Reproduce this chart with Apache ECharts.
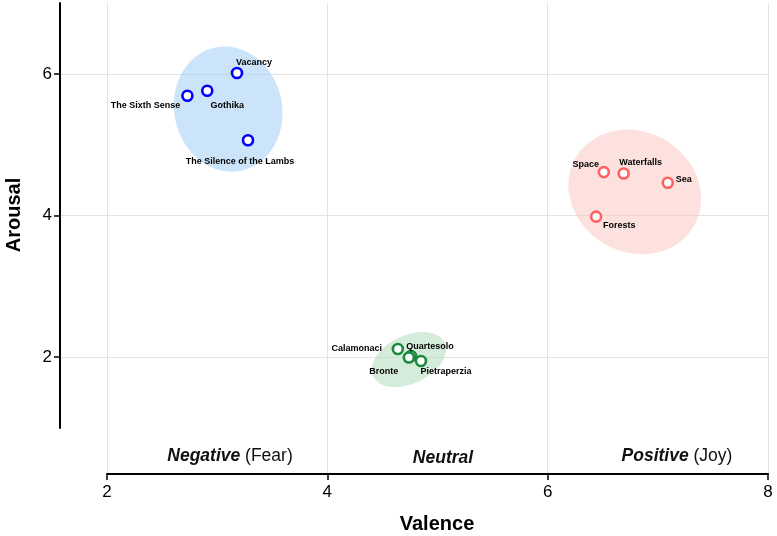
<!DOCTYPE html>
<html>
<head>
<meta charset="utf-8">
<script src="https://cdn.jsdelivr.net/npm/echarts@6/dist/echarts.min.js"></script>
<style>
  html, body { margin: 0; padding: 0; background: #fff; }
  #chart { width: 777px; height: 536px; }
</style>
</head>
<body>
<div id="chart"></div>
<script>
// Fear (films)
var fearNames = ["Vacancy", "Gothika", "The Sixth Sense", "The Silence of the Lambs"];
var fearValence = [3.18, 2.91, 2.73, 3.28];
var fearArousal = [6.01, 5.76, 5.69, 5.06];

// Joy (nature)
var joyNames = ["Space", "Waterfalls", "Sea", "Forests"];
var joyValence = [6.51, 6.69, 7.09, 6.44];
var joyArousal = [4.61, 4.59, 4.46, 3.98];

// Neutral (towns)
var neutralNames = ["Calamonaci", "Quartesolo", "Bronte", "Pietraperzia"];
var neutralValence = [4.64, 4.76, 4.74, 4.85];
var neutralArousal = [2.11, 2.01, 1.99, 1.94];

// cluster ellipses: centre, half-width (valence), half-height (arousal), tilt in degrees
var ellipseValence = [3.10, 6.79, 4.74];
var ellipseArousal = [5.50, 4.33, 1.96];
var ellipseHalfV = [0.49, 0.62, 0.36];
var ellipseHalfA = [0.89, 0.85, 0.34];
var ellipseTilt = [12, -30, 25];

var xTicks = [2, 4, 6, 8];
var yTicks = [2, 4, 6];

// label offsets from marker centre (px)
var fearOffsets = [[17, -11], [20, 15], [-42, 10], [-8, 21]];
var joyOffsets = [[-18, -8], [17, -11], [16, -3], [23, 9]];
var neutralOffsets = [[-41, 0], [19, -10], [-25, 14], [25, 11]];

var ellipseFill = ["rgba(153,201,245,0.5)", "rgba(251,195,189,0.5)", "rgba(173,217,181,0.5)"];
var FONT = "'Liberation Sans', Arial, Helvetica, sans-serif";

function points(names, xs, ys, offsets) {
  return names.map(function (n, i) {
    return { value: [xs[i], ys[i]], name: n, label: { offset: offsets[i] } };
  });
}

function scatter(name, color, data) {
  return {
    name: name,
    type: "scatter",
    xAxisIndex: 1,
    yAxisIndex: 1,
    symbol: "circle",
    symbolSize: 10,
    z: 5,
    itemStyle: { color: "#fff", borderColor: color, borderWidth: 2.6, opacity: 1 },
    label: {
      show: true,
      position: "inside",
      formatter: "{b}",
      color: "#000",
      fontSize: 9,
      fontWeight: "bold",
      fontFamily: FONT
    },
    data: data
  };
}

var chart = echarts.init(document.getElementById("chart"));

chart.setOption({
  animation: false,
  backgroundColor: "#fff",
  grid: [
    { left: 60, right: 9, top: 3, bottom: 108 },
    { left: 107, right: 9, top: 3, bottom: 62 }
  ],
  xAxis: [
    { gridIndex: 0, type: "value", show: false, min: 0, max: 1 },
    {
      gridIndex: 1,
      type: "value",
      min: 2,
      max: 8,
      interval: 2,
      axisLine: { lineStyle: { color: "#000", width: 2 } },
      axisTick: { show: true, length: 6, lineStyle: { color: "#000", width: 1.5 } },
      axisLabel: { color: "#000", fontSize: 17, margin: 10, fontFamily: FONT,
        customValues: xTicks },
      splitLine: { show: true, lineStyle: { color: "#e3e3e3", width: 1 } }
    }
  ],
  yAxis: [
    {
      gridIndex: 0,
      type: "value",
      min: 1,
      max: 7,
      interval: 1,
      axisLine: { show: true, lineStyle: { color: "#000", width: 2 } },
      axisTick: { show: true, length: 6, customValues: yTicks, lineStyle: { color: "#000", width: 1.5 } },
      axisLabel: { color: "#000", fontSize: 17, margin: 8, fontFamily: FONT, customValues: yTicks },
      splitLine: { show: true, lineStyle: { color: "#e3e3e3", width: 1 } }
    },
    { gridIndex: 1, type: "value", show: false, min: 7 - 471 / 70.75, max: 7 }
  ],
  graphic: [
    {
      type: "text", x: 14, y: 215, rotation: Math.PI / 2,
      style: { text: "Arousal", fill: "#000", font: "bold 20px " + FONT, align: "center", verticalAlign: "middle" }
    },
    {
      type: "text", x: 437, y: 524,
      style: { text: "Valence", fill: "#000", font: "bold 20px " + FONT, align: "center", verticalAlign: "middle" }
    },
    {
      type: "text", x: 230, y: 456,
      style: {
        text: "{b|Negative} (Fear)", fill: "#111", font: "17.5px " + FONT,
        align: "center", verticalAlign: "middle",
        rich: { b: { fontStyle: "italic", fontWeight: "bold", fontSize: 17.5, fontFamily: FONT, fill: "#111" } }
      }
    },
    {
      type: "text", x: 443, y: 458,
      style: { text: "Neutral", fill: "#111", font: "italic bold 17.5px " + FONT, align: "center", verticalAlign: "middle" }
    },
    {
      type: "text", x: 677, y: 456,
      style: {
        text: "{b|Positive} (Joy)", fill: "#111", font: "17.5px " + FONT,
        align: "center", verticalAlign: "middle",
        rich: { b: { fontStyle: "italic", fontWeight: "bold", fontSize: 17.5, fontFamily: FONT, fill: "#111" } }
      }
    }
  ],
  series: [
    {
      type: "custom",
      xAxisIndex: 1,
      yAxisIndex: 1,
      z: 1,
      silent: true,
      data: ellipseValence.map(function (v, i) {
        return [v, ellipseArousal[i], ellipseHalfV[i], ellipseHalfA[i], ellipseTilt[i]];
      }),
      renderItem: function (params, api) {
        var c = api.coord([api.value(0), api.value(1)]);
        var s = api.size([api.value(2), api.value(3)]);
        return {
          type: "circle",
          x: c[0],
          y: c[1],
          scaleX: s[0] / s[1],
          scaleY: 1,
          rotation: api.value(4) * Math.PI / 180,
          shape: { cx: 0, cy: 0, r: s[1] },
          style: { fill: ellipseFill[params.dataIndex] }
        };
      }
    },
    scatter("Fear", "#0000ff", points(fearNames, fearValence, fearArousal, fearOffsets)),
    scatter("Joy", "#ff6060", points(joyNames, joyValence, joyArousal, joyOffsets)),
    scatter("Neutral", "#1a8a3c", points(neutralNames, neutralValence, neutralArousal, neutralOffsets))
  ]
});
</script>
</body>
</html>
